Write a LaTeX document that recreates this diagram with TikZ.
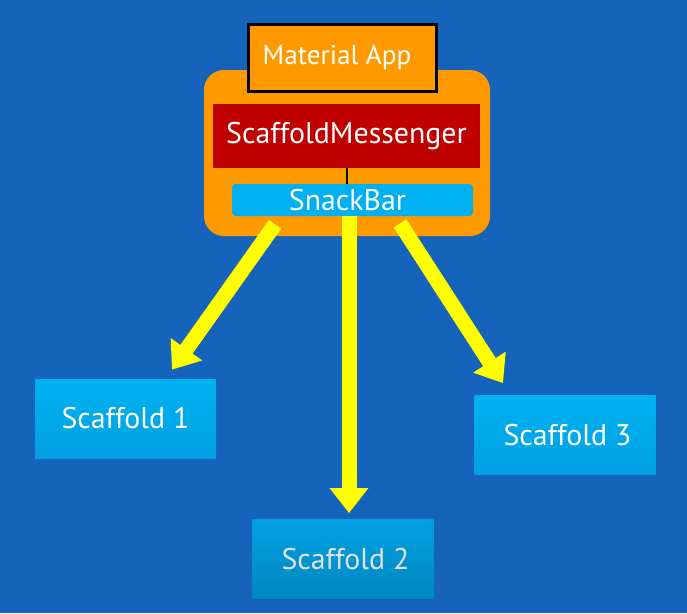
\documentclass[tikz,border=0pt]{standalone}
\usepackage{fontspec}
\setmainfont{PT Sans}
\usetikzlibrary{positioning,arrows.meta,calc}
\definecolor{bgblue}{RGB}{22,99,188}
\definecolor{appor}{RGB}{255,153,0}
\definecolor{msgred}{RGB}{192,0,0}
\definecolor{snack}{RGB}{0,176,240}
\definecolor{scaftop}{RGB}{0,178,240}
\definecolor{scafbot}{RGB}{0,160,226}
\definecolor{arrowyel}{RGB}{255,255,0}
\tikzset{
  panel/.style={fill=#1, inner sep=0pt, text=white, align=center, font=\fontsize{17}{19}\selectfont},
  panel/.default={snack},
  scaf/.style={inner sep=0pt, text=white, top color=scaftop, bottom color=scafbot, minimum width=3.62cm, minimum height=1.58cm, font=\fontsize{17}{19}\selectfont},
  bigarrow/.style={-{Triangle[length=0.5cm, width=0.74cm]}, line width=0.3cm, draw=arrowyel},
  tie/.style={draw=black, line width=0.04cm}
}
\begin{document}
\begin{tikzpicture}
    \fill[bgblue] (0,0) rectangle (13.74,-12.26);
    \node[panel=appor, rounded corners=0.4cm, minimum width=5.72cm, minimum height=3.32cm] (frame) at (6.94,-3.06) {};
    \node[panel=appor, draw=black, line width=0.06cm, minimum width=3.76cm, minimum height=1.34cm, font=\fontsize{15.5}{17}\selectfont] (app) at (6.84,-1.15) {Material App\hspace{0.2cm}};
    \node[panel=msgred, minimum width=5.34cm, minimum height=1.28cm] (msgr) at (6.93,-2.72) {ScaffoldMessenger};
    \node[panel, rounded corners=0.08cm, minimum width=4.82cm, minimum height=0.64cm] (bar) at (7.05,-4.0) {SnackBar\hspace{0.2cm}};
    \draw[tie] (msgr.south) -- (msgr.south |- bar.north);
    \node[scaf] (s1) at (2.51,-8.37) {Scaffold 1};
    \node[scaf, top color=scafbot, bottom color=scafbot!85!black, text=white!88!black] (s2) at (6.86,-11.18) {\hspace{0.1cm}Scaffold 2};
    \node[scaf] (s3) at (11.3,-8.7) {\hspace{0.1cm}Scaffold 3};
    \draw[bigarrow] ([xshift=-1.55cm, yshift=-0.16cm]bar.south) -- ([xshift=0.93cm, yshift=0.18cm]s1.north);
    \draw[bigarrow] ([xshift=-0.07cm]bar.south) -- ([xshift=0.12cm, yshift=0.12cm]s2.north);
    \draw[bigarrow] ([xshift=0.95cm, yshift=-0.14cm]bar.south) -- ([xshift=-1.24cm, yshift=0.24cm]s3.north);
\end{tikzpicture}
\end{document}
